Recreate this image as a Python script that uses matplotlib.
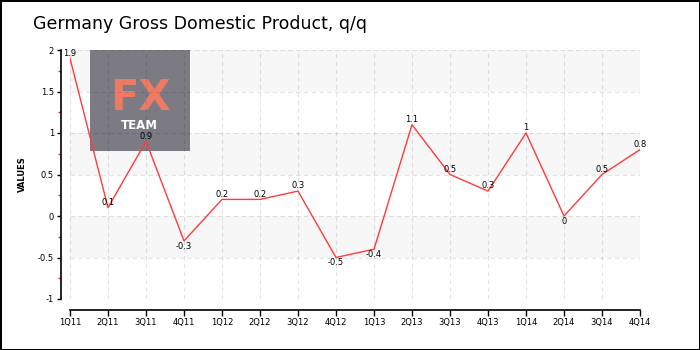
import matplotlib
matplotlib.use("Agg")
import matplotlib.pyplot as plt
from matplotlib.patches import Rectangle
from matplotlib.ticker import MultipleLocator

categories = ["1Q11", "2Q11", "3Q11", "4Q11", "1Q12", "2Q12", "3Q12", "4Q12",
              "1Q13", "2Q13", "3Q13", "4Q13", "1Q14", "2Q14", "3Q14", "4Q14"]
values = [1.9, 0.1, 0.9, -0.3, 0.2, 0.2, 0.3, -0.5, -0.4, 1.1, 0.5, 0.3, 1.0, 0.0, 0.5, 0.8]
title = "Germany Gross Domestic Product, q/q"
y_label = "VALUES"

W, H = 700, 350
fig = plt.figure(figsize=(7, 3.5), dpi=100, facecolor="white",
                 edgecolor="black", linewidth=2)

ax = fig.add_axes([70 / W, 1 - 299 / H, 570 / W, 249 / H])
ax.set_facecolor("white")
x = list(range(len(categories)))
ax.set_xlim(0, len(categories) - 1)
ax.set_ylim(-1, 2)

# alternating bands
for lo in [-0.5, 0.5, 1.5]:
    ax.axhspan(lo, lo + 0.5, color="#f7f7f7", zorder=0, lw=0)

# logo (figure coords)
ax.add_patch(Rectangle((90 / W, 1 - 151 / H), 100 / W, 101 / H,
                       transform=fig.transFigure, facecolor="#7c7b83",
                       edgecolor="none", zorder=0.5, clip_on=False))
ax.text(140 / W, 1 - 110 / H, "FX", transform=fig.transFigure, ha="center",
        va="baseline", color="#ef7a64", fontsize=30, fontweight="bold", zorder=0.6,
        family="DejaVu Sans")
ax.text(139 / W, 1 - 129 / H, "TEAM", transform=fig.transFigure, ha="center",
        va="baseline", color="white", fontsize=8.5, fontweight="bold", zorder=0.6,
        family="DejaVu Sans")

ax.set_xticks(x)
ax.set_xticklabels(categories)
ax.yaxis.set_major_locator(MultipleLocator(0.5))
ax.yaxis.set_minor_locator(MultipleLocator(0.25))
ax.set_yticklabels([f"{v:g}" for v in ax.get_yticks()])
ax.grid(True, which="major", color="black", alpha=0.11, linestyle=(0, (4, 3)), lw=0.8)
for gl in ax.get_xgridlines() + ax.get_ygridlines():
    gl.set_zorder(1)

ax.plot(x, values, color="#ff3b3b", lw=1.0, zorder=3)
for xi, v in zip(x, values):
    if v > 0:
        ax.annotate(f"{v:g}", (xi, v), xytext=(0, 0.5), textcoords="offset points",
                    ha="center", va="bottom", fontsize=6, zorder=4)
    else:
        ax.annotate(f"{v:g}", (xi, v), xytext=(0, -0.5), textcoords="offset points",
                    ha="center", va="top", fontsize=6, zorder=4)

for s in ["top", "right"]:
    ax.spines[s].set_visible(False)
ax.spines["left"].set_position(("outward", 6.5))
ax.spines["bottom"].set_position(("outward", 8))
ax.spines["left"].set_linewidth(1.2)
ax.spines["bottom"].set_linewidth(1.2)
ax.tick_params(axis="both", which="major", length=3, width=1, labelsize=6, pad=2)
ax.tick_params(axis="y", which="minor", length=2, width=1, color="#ff2020")
ax.tick_params(axis="x", which="major", length=4)
ax.set_ylabel(y_label, fontsize=6, fontweight="bold", labelpad=8)

fig.text(33 / W, 1 - 24 / H, title, fontsize=12.5, ha="left", va="center",
         family="DejaVu Sans")

fig.savefig("out.png", dpi=100)
